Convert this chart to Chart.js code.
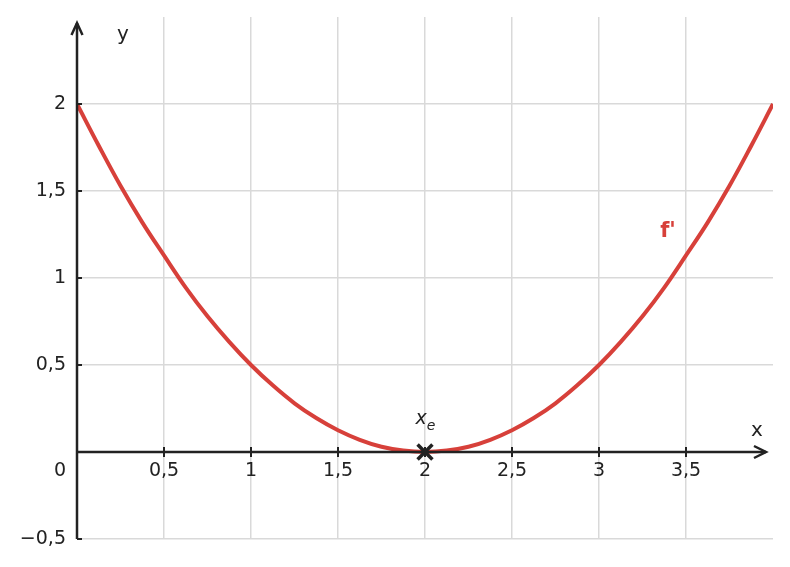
<!DOCTYPE html>
<html>
<head>
<meta charset="utf-8">
<script src="https://cdn.jsdelivr.net/npm/chart.js@4"></script>
<style>
html,body{margin:0;padding:0;background:#fff;}
canvas{display:block;}
</style>
</head>
<body>
<canvas id="c" width="790" height="567"></canvas>
<script>
// Data
const xValues = [0,0.125,0.25,0.375,0.5,0.625,0.75,0.875,1,1.125,1.25,1.375,1.5,1.625,1.75,1.875,2,
                 2.125,2.25,2.375,2.5,2.625,2.75,2.875,3,3.125,3.25,3.375,3.5,3.625,3.75,3.875,4];
const yValues = [2,1.76,1.53,1.32,1.13,0.945,0.78,0.633,0.5,0.383,0.28,0.195,0.125,0.07,0.03,0.008,0,
                 0.008,0.03,0.07,0.125,0.195,0.28,0.383,0.5,0.633,0.78,0.945,1.13,1.32,1.53,1.76,2];
const xTicks = [0.5,1,1.5,2,2.5,3,3.5];
const xTickLabels = ["0,5","1","1,5","2","2,5","3","3,5"];
const yTicks = [-0.5,0.5,1,1.5,2];
const yTickLabels = ["\u22120,5","0,5","1","1,5","2"];
const extremumX = [2];
const extremumY = [0];

const RED = '#d7403a';
const INK = '#222222';
const FONT = '"DejaVu Sans", sans-serif';

const axesPlugin = {
  id: 'axesPlugin',
  afterDatasetsDraw(chart) {
    const ctx = chart.ctx;
    const xs = chart.scales.x, ys = chart.scales.y;
    const x0 = xs.getPixelForValue(0), y0 = ys.getPixelForValue(0);
    const ca = chart.chartArea;
    ctx.save();
    ctx.strokeStyle = INK;
    ctx.fillStyle = INK;
    ctx.lineWidth = 2.5;
    ctx.lineCap = 'butt';
    // y axis
    ctx.beginPath();
    ctx.moveTo(x0, ca.bottom);
    ctx.lineTo(x0, 23);
    ctx.stroke();
    ctx.beginPath();
    ctx.moveTo(x0 - 5.5, 35); ctx.lineTo(x0, 23); ctx.lineTo(x0 + 5.5, 35);
    ctx.stroke();
    // x axis
    ctx.beginPath();
    ctx.moveTo(x0, y0);
    ctx.lineTo(766, y0);
    ctx.stroke();
    ctx.beginPath();
    ctx.moveTo(754, y0 - 6); ctx.lineTo(766, y0); ctx.lineTo(754, y0 + 6);
    ctx.stroke();
    // tick marks
    ctx.lineWidth = 2;
    xTicks.forEach(v => {
      const px = xs.getPixelForValue(v);
      ctx.beginPath(); ctx.moveTo(px, y0 - 5); ctx.lineTo(px, y0 + 5); ctx.stroke();
    });
    yTicks.concat([0]).forEach(v => {
      const py = ys.getPixelForValue(v);
      ctx.beginPath(); ctx.moveTo(x0, py); ctx.lineTo(x0 + 5, py); ctx.stroke();
    });
    // tick labels
    ctx.font = '19px ' + FONT;
    ctx.textBaseline = 'middle';
    ctx.textAlign = 'center';
    xTicks.forEach((v, i) => {
      ctx.fillText(xTickLabels[i], xs.getPixelForValue(v), y0 + 19);
    });
    ctx.textAlign = 'right';
    yTicks.forEach((v, i) => {
      ctx.fillText(yTickLabels[i], x0 - 11, ys.getPixelForValue(v));
    });
    ctx.textAlign = 'center';
    ctx.fillText('0', x0 - 17, y0 + 19);
    // axis names
    ctx.font = '20px ' + FONT;
    ctx.fillText('y', 123, 35);
    ctx.fillText('x', 757, 431);
    // x_e label
    const ex = xs.getPixelForValue(extremumX[0]);
    ctx.font = 'italic 19px ' + FONT;
    ctx.textAlign = 'center';
    ctx.fillText('x', ex - 4, y0 - 33);
    ctx.font = 'italic 14px ' + FONT;
    ctx.fillText('e', ex + 6, y0 - 26);
    // f' label
    ctx.fillStyle = RED;
    ctx.font = 'bold 21px ' + FONT;
    ctx.fillText("f'", 668, 232);
    ctx.restore();
  }
};

new Chart(document.getElementById('c'), {
  type: 'scatter',
  data: {
    datasets: [
      {
        type: 'line',
        data: xValues.map((x, i) => ({x: x, y: yValues[i]})),
        borderColor: RED,
        borderWidth: 4,
        pointRadius: 0,
        tension: 0.4,
        fill: false,
        order: 2
      },
      {
        data: extremumX.map((x, i) => ({x: x, y: extremumY[i]})),
        pointStyle: 'crossRot',
        pointRadius: 10.5,
        borderWidth: 3.5,
        borderColor: INK,
        backgroundColor: INK,
        order: 1
      }
    ]
  },
  options: {
    responsive: false,
    animation: false,
    events: [],
    layout: { padding: { left: 77, right: 17, top: 17, bottom: 28 } },
    plugins: { legend: { display: false }, tooltip: { enabled: false } },
    scales: {
      x: {
        type: 'linear', min: 0, max: 4,
        afterBuildTicks: s => { s.ticks = xTicks.map(v => ({value: v})); },
        ticks: { display: false },
        grid: { color: '#d9d9d9', lineWidth: 1.5, drawTicks: false },
        border: { display: false }
      },
      y: {
        type: 'linear', min: -0.5, max: 2.5,
        afterBuildTicks: s => { s.ticks = yTicks.map(v => ({value: v})); },
        ticks: { display: false },
        grid: { color: '#d9d9d9', lineWidth: 1.5, drawTicks: false },
        border: { display: false }
      }
    }
  },
  plugins: [axesPlugin]
});
</script>
</body>
</html>
